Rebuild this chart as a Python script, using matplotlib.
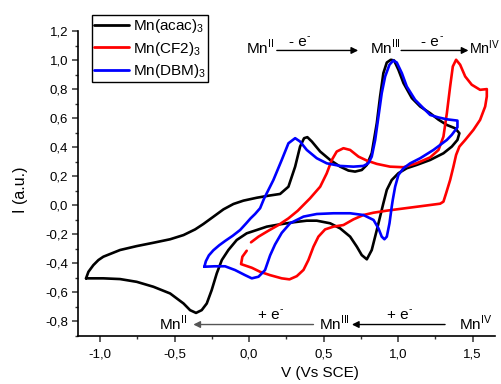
import matplotlib
matplotlib.use('Agg')
import matplotlib.pyplot as plt
from matplotlib.ticker import MultipleLocator, FuncFormatter

plt.rcParams['font.family'] = ['Liberation Sans', 'DejaVu Sans']
plt.rcParams['axes.unicode_minus'] = False

# ---- data ----
acac_v = [-1.094, -1.078, -1.045, -1.011, -0.978, -0.866, -0.754, -0.642, -0.530, -0.440, -0.362,
          -0.307, -0.240, -0.172, -0.105, -0.038, 0.052, 0.130, 0.208, 0.264, 0.309, 0.342, 0.369,
          0.391, 0.421, 0.477, 0.544, 0.611, 0.667, 0.711, 0.756, 0.790, 0.823, 0.857, 0.879, 0.901,
          0.924, 0.951, 0.973, 1.002, 1.036, 1.092, 1.148, 1.215, 1.270, 1.327, 1.383, 1.411,
          1.398, 1.360, 1.304, 1.215, 1.125, 1.058, 1.002, 0.957, 0.924, 0.901, 0.890, 0.857, 0.823,
          0.790, 0.756, 0.723, 0.678, 0.611, 0.544, 0.454, 0.387, 0.298, 0.208, 0.119, 0.052,
          -0.016, -0.083, -0.139, -0.183, -0.217, -0.251, -0.284, -0.318, -0.356, -0.396, -0.440,
          -0.530, -0.642, -0.754, -0.866, -0.978, -1.094]
acac_i = [-0.503, -0.458, -0.412, -0.377, -0.354, -0.308, -0.281, -0.258, -0.234, -0.205, -0.166,
          -0.129, -0.079, -0.028, 0.009, 0.032, 0.052, 0.066, 0.078, 0.128, 0.266, 0.404, 0.462,
          0.469, 0.439, 0.370, 0.312, 0.266, 0.239, 0.232, 0.243, 0.278, 0.359, 0.566, 0.749, 0.910,
          0.983, 1.002, 0.997, 0.933, 0.841, 0.738, 0.680, 0.634, 0.590, 0.553, 0.530, 0.496,
          0.450, 0.404, 0.358, 0.312, 0.278, 0.255, 0.221, 0.174, 0.106, 0.014, -0.032, -0.170, -0.308,
          -0.372, -0.343, -0.285, -0.216, -0.159, -0.124, -0.106, -0.106, -0.117, -0.131, -0.147, -0.170,
          -0.193, -0.239, -0.308, -0.377, -0.469, -0.584, -0.676, -0.722, -0.741, -0.722, -0.676,
          -0.607, -0.561, -0.527, -0.508, -0.503, -0.503]

cf2_v = [0.013, 0.063, 0.130, 0.197, 0.264, 0.326, 0.409, 0.477, 0.521, 0.555, 0.588, 0.633, 0.678,
         0.734, 0.790, 0.857, 0.946, 1.036, 1.125, 1.215, 1.271, 1.304, 1.327, 1.349, 1.367, 1.389,
         1.416, 1.450, 1.494, 1.550, 1.595, 1.595, 1.584, 1.550, 1.505, 1.450, 1.411, 1.389, 1.371,
         1.349, 1.322, 1.304, 1.282, 1.215, 1.103, 1.013, 0.924, 0.835, 0.767, 0.700, 0.633, 0.566,
         0.510, 0.465, 0.432, 0.398, 0.365, 0.320, 0.271, 0.219, 0.141, 0.074, 0.018, -0.054, -0.045,
         -0.016]
cf2_i = [-0.255, -0.216, -0.175, -0.136, -0.090, -0.038, 0.048, 0.128, 0.220, 0.312, 0.370, 0.393,
         0.381, 0.335, 0.308, 0.285, 0.266, 0.262, 0.290, 0.330, 0.381, 0.473, 0.634, 0.818, 0.956,
         1.002, 0.968, 0.887, 0.830, 0.795, 0.800, 0.749, 0.680, 0.588, 0.519, 0.450, 0.404, 0.347,
         0.266, 0.174, 0.083, 0.025, 0.011, 0.002, -0.013, -0.025, -0.037, -0.051, -0.067, -0.097,
         -0.136, -0.147, -0.166, -0.216, -0.285, -0.377, -0.445, -0.488, -0.510, -0.503, -0.481,
         -0.458, -0.430, -0.405, -0.354, -0.313]

dbm_v = [-0.300, -0.290, -0.270, -0.240, -0.200, -0.160, -0.110, -0.060, -0.020, 0.010, 0.040, 0.074,
         0.100, 0.163, 0.219, 0.264, 0.309, 0.342, 0.387, 0.454, 0.521, 0.611, 0.700, 0.767, 0.800,
         0.823, 0.846, 0.868, 0.890, 0.913, 0.942, 0.968, 0.991, 1.025, 1.058, 1.114, 1.170, 1.215,
         1.270, 1.327, 1.398, 1.398, 1.360, 1.327, 1.237, 1.148, 1.081, 1.036, 1.002, 0.980, 0.964,
         0.957, 0.942, 0.924, 0.908, 0.890, 0.868, 0.835, 0.767, 0.678, 0.566, 0.454, 0.365, 0.275,
         0.219, 0.174, 0.141, 0.107, 0.063, 0.018, -0.027, -0.094, -0.161, -0.230, -0.300]
dbm_i = [-0.423, -0.385, -0.345, -0.310, -0.275, -0.245, -0.210, -0.170, -0.125, -0.090, -0.060,
         -0.020, 0.045, 0.174, 0.312, 0.427, 0.462, 0.439, 0.381, 0.324, 0.289, 0.271, 0.266, 0.271,
         0.289, 0.335, 0.450, 0.611, 0.772, 0.887, 0.968, 0.997, 0.983, 0.910, 0.818, 0.726, 0.668,
         0.622, 0.605, 0.592, 0.583, 0.537, 0.485, 0.450, 0.381, 0.324, 0.289, 0.255, 0.209, 0.128,
         0.037, -0.010, -0.124, -0.216, -0.234, -0.216, -0.159, -0.101, -0.067, -0.055, -0.055, -0.060,
         -0.078, -0.124, -0.190, -0.270, -0.345, -0.446, -0.492, -0.503, -0.481, -0.446, -0.420,
         -0.420, -0.423]

series_labels = ['Mn(acac)$_\\mathregular{3}$', 'Mn(CF2)$_\\mathregular{3}$', 'Mn(DBM)$_\\mathregular{3}$']
series_colors = ['#000000', '#ff0000', '#0000ff']

x_major = 0.5
y_major = 0.2

fig = plt.figure(figsize=(5.02, 3.84), dpi=100)
ax = fig.add_axes([78 / 502, 48 / 384, 417 / 502, 305 / 384])

for (v, i), lab, col in zip([(acac_v, acac_i), (cf2_v, cf2_i), (dbm_v, dbm_i)], series_labels, series_colors):
    ax.plot(v, i, color=col, lw=1.9, label=lab, solid_joinstyle='round', solid_capstyle='round')

ax.set_xlim(-1.148, 1.65)
ax.set_ylim(-0.9, 1.2)
for s in ['top', 'right']:
    ax.spines[s].set_visible(False)
for s in ['left', 'bottom']:
    ax.spines[s].set_linewidth(1.2)

fmt = FuncFormatter(lambda v, p: ('%.1f' % (0.0 if abs(v) < 1e-9 else v)).replace('.', ','))
ax.xaxis.set_major_locator(MultipleLocator(x_major))
ax.xaxis.set_minor_locator(MultipleLocator(x_major / 2))
ax.yaxis.set_major_locator(MultipleLocator(y_major))
ax.yaxis.set_minor_locator(MultipleLocator(y_major / 2))
ax.xaxis.set_major_formatter(fmt)
ax.yaxis.set_major_formatter(fmt)
ax.tick_params(which='major', direction='out', length=4, width=1.1, labelsize=9.5, color='#333333')
ax.tick_params(which='minor', direction='out', length=2.5, width=1.0, color='#333333')
ax.tick_params(axis='x', which='major', pad=5)
ax.tick_params(axis='y', which='major', pad=3)

ax.set_xlabel('V (Vs SCE)', fontsize=11)
ax.set_ylabel('I (a.u.)', fontsize=11.5)
ax.xaxis.set_label_coords(0.58, -0.098)
ax.yaxis.set_label_coords(-0.12, 0.48)

leg = ax.legend(loc='upper left', bbox_to_anchor=(0.0336, 1.052), frameon=True, fancybox=False,
                edgecolor='black', framealpha=1, borderpad=0.15, handlelength=2.3,
                handletextpad=0.25, labelspacing=0.28, borderaxespad=0, fontsize=11)
leg.get_frame().set_linewidth(1.0)
for h in leg.get_lines():
    h.set_linewidth(2.0)

fs = 11
sup = lambda s: '$^{\\mathregular{%s}}$' % s
arrow_kw = dict(arrowstyle='-|>', color='black', lw=1.0, mutation_scale=10, shrinkA=0, shrinkB=0)


def electron(x, y, sign):
    t = ax.text(x, y, sign + ' e', ha='center', va='center', fontsize=fs, clip_on=False)
    ax.annotate('-', xy=(1.0, 0.9), xycoords=t, ha='left', va='center', fontsize=7.5,
                annotation_clip=False)


# top annotations
ax.text(0.071, 1.088, 'Mn' + sup('II'), ha='center', va='center', fontsize=fs, clip_on=False)
ax.annotate('', xy=(0.732, 1.066), xytext=(0.186, 1.066), arrowprops=arrow_kw, annotation_clip=False)
electron(0.325, 1.123, '-')
ax.text(0.916, 1.088, 'Mn' + sup('III'), ha='center', va='center', fontsize=fs, clip_on=False)
ax.annotate('', xy=(1.472, 1.066), xytext=(1.02, 1.066), arrowprops=arrow_kw, annotation_clip=False)
electron(1.216, 1.123, '-')
ax.text(1.686, 1.088, 'Mn' + sup('IV'), ha='right', va='center', fontsize=10.3, clip_on=False)

# bottom annotations
ax.text(-0.513, -0.815, 'Mn' + sup('II'), ha='center', va='center', fontsize=fs, clip_on=False)
ax.annotate('', xy=(-0.374, -0.821), xytext=(0.432, -0.821),
            arrowprops=dict(arrow_kw, color='#555555'), annotation_clip=False)
electron(0.131, -0.755, '+')
ax.text(0.571, -0.815, 'Mn' + sup('III'), ha='center', va='center', fontsize=fs, clip_on=False)
ax.annotate('', xy=(0.69, -0.821), xytext=(1.315, -0.821), arrowprops=arrow_kw, annotation_clip=False)
electron(0.997, -0.755, '+')
ax.text(1.523, -0.815, 'Mn' + sup('IV'), ha='center', va='center', fontsize=fs, clip_on=False)

fig.savefig('out.png', dpi=100)
